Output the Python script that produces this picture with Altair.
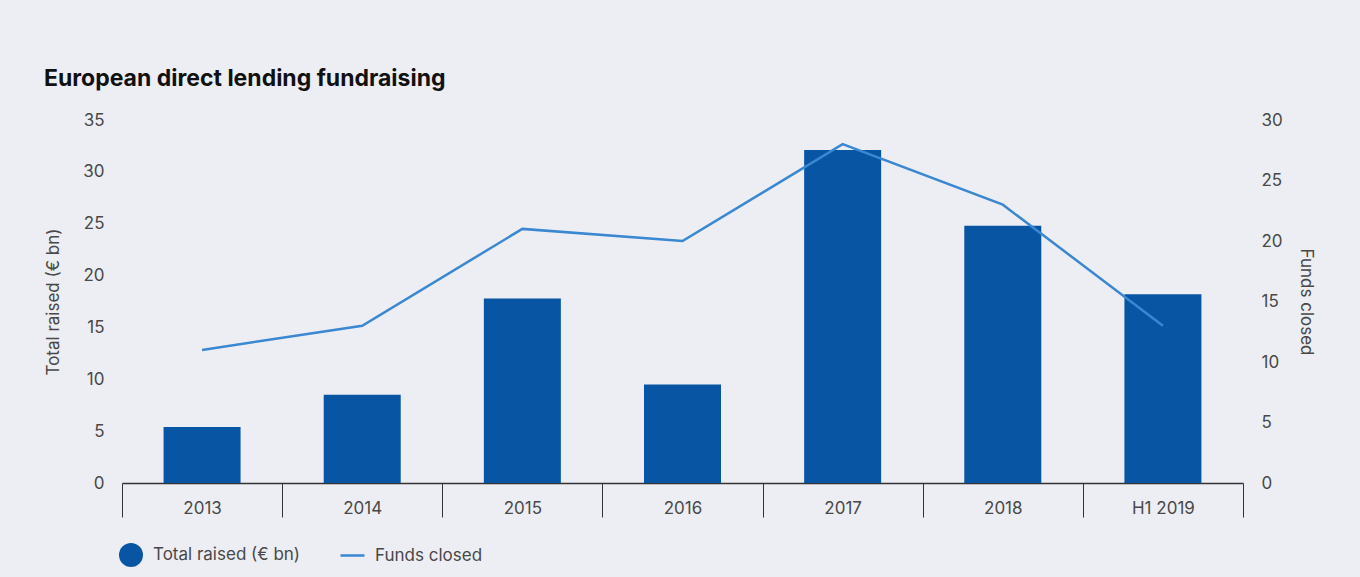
import altair as alt
import pandas as pd

years = ["2013", "2014", "2015", "2016", "2017", "2018", "H1 2019"]
total_raised = [5.4, 8.5, 17.8, 9.5, 32.1, 24.8, 18.2]
funds_closed = [11, 13, 21, 20, 28, 23, 13]
left_ticks = [0, 5, 10, 15, 20, 25, 30, 35]
right_ticks = [0, 5, 10, 15, 20, 25, 30]
series_names = ["Total raised (€ bn)", "Funds closed"]

df = pd.DataFrame({
    "year": years,
    "total": total_raised,
    "funds": funds_closed,
    "s_bar": [series_names[0]] * len(years),
    "s_line": [series_names[1]] * len(years),
})

BAR = "#0855a3"
LINE = "#3a87d2"
BG = "#edeef3"
TXT = "#484848"
FONT = "Inter"

x = alt.X(
    "year:N",
    sort=years,
    scale=alt.Scale(paddingInner=0, paddingOuter=0),
    axis=alt.Axis(
        title=None, labelAngle=0, tickBand="extent", tickSize=34, tickColor="#333333",
        tickWidth=1, domainColor="#333333", domainWidth=1.5, labelPadding=-17,
        labelFontSize=17, labelColor=TXT, labelFont=FONT,
    ),
)

bars = alt.Chart(df).mark_bar(size=77).encode(
    x=x,
    y=alt.Y(
        "total:Q",
        scale=alt.Scale(domain=[0, 35], nice=False),
        axis=alt.Axis(
            title="Total raised (€ bn)", values=left_ticks, grid=False, domain=False,
            ticks=False, labelPadding=18, titlePadding=20, labelFontSize=17,
            labelColor=TXT, labelFont=FONT, titleFontSize=17, titleFontWeight="normal",
            titleColor=TXT, titleFont=FONT,
        ),
    ),
    color=alt.Color(
        "s_bar:N",
        scale=alt.Scale(domain=[series_names[0]], range=[BAR]),
        legend=alt.Legend(
            title=None, orient="none", legendX=-4, legendY=422, symbolType="circle",
            symbolSize=576, labelOffset=9, labelFontSize=17, labelColor=TXT,
            labelFont=FONT, padding=0, symbolOpacity=1,
        ),
    ),
)

line = alt.Chart(df).mark_line(strokeWidth=2.5).encode(
    x=x,
    y=alt.Y(
        "funds:Q",
        scale=alt.Scale(domain=[0, 30], nice=False),
        axis=alt.Axis(
            orient="right", title="Funds closed", values=right_ticks, grid=False,
            domain=False, ticks=False, labelPadding=18, titlePadding=14,
            labelFontSize=17, labelColor=TXT, labelFont=FONT, titleFontSize=17,
            titleFontWeight="normal", titleColor=TXT, titleFont=FONT,
        ),
    ),
    stroke=alt.Stroke(
        "s_line:N",
        scale=alt.Scale(domain=[series_names[1]], range=[LINE]),
        legend=alt.Legend(
            title=None, orient="none", legendX=217, legendY=422, symbolType="stroke",
            symbolSize=576, symbolStrokeWidth=2.5, labelOffset=9, labelFontSize=17,
            labelColor=TXT, labelFont=FONT, padding=0,
        ),
    ),
)

chart = (
    alt.layer(bars, line)
    .resolve_scale(y="independent", color="independent", stroke="independent")
    .properties(
        width=1121,
        height=363,
        autosize=alt.AutoSizeParams(type="none"),
        padding={"left": 122, "top": 120, "right": 117, "bottom": 94},
        background=BG,
        title=alt.TitleParams(
            "European direct lending fundraising", anchor="start", frame="group",
            dx=-78, offset=20, fontSize=23, fontWeight="bold", color="#111111",
            font=FONT,
        ),
    )
    .configure_view(stroke=None)
)

chart.save("out.html", embed_options={"renderer": "svg", "actions": False})
